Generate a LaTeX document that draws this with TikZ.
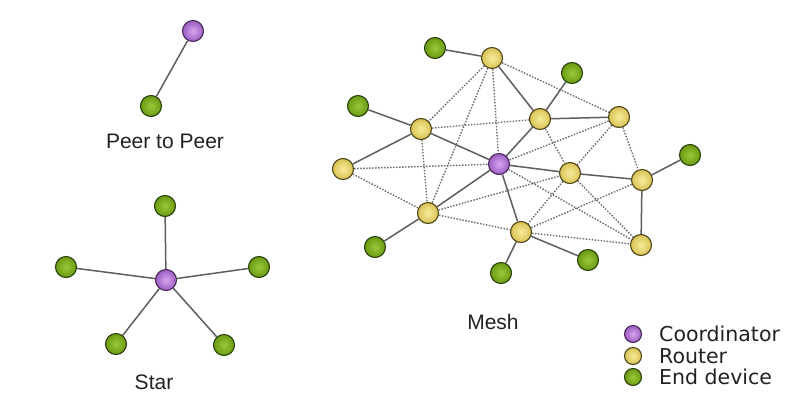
\documentclass[tikz,border=0pt]{standalone}
\usepackage{fontspec}
\setmainfont{Liberation Sans}
\newfontfamily\legendfont{DejaVu Sans}
\begin{document}
\begin{tikzpicture}[x=1pt,y=-1pt,
  dev/.style={circle, inner sep=0pt, minimum size=21pt, draw, line width=1.1pt},
  coord/.style={dev, draw=coordedge, inner color=coordin, outer color=coordout},
  router/.style={dev, draw=routeredge, inner color=routerin, outer color=routerout},
  enddev/.style={dev, draw=endedge, inner color=endin, outer color=endout},
  small/.style={minimum size=17pt},
  link/.style={draw=linkgray, line width=1.5pt},
  weak/.style={draw=dotgray, line width=1.4pt, dash pattern=on 1.5pt off 1.5pt},
  caption/.style={font=\fontsize{21}{24}\selectfont, text=textgray, inner sep=0pt},
  legtext/.style={font=\legendfont\fontsize{20.5}{23}\selectfont, text=textgray, anchor=west, inner sep=0pt}
]
\definecolor{coordin}{HTML}{D9A6F2}
\definecolor{coordout}{HTML}{9A5CC0}
\definecolor{coordedge}{HTML}{4A2A5C}
\definecolor{routerin}{HTML}{F7EC9A}
\definecolor{routerout}{HTML}{D8C255}
\definecolor{routeredge}{HTML}{4E4618}
\definecolor{endin}{HTML}{9CC83A}
\definecolor{endout}{HTML}{6A9A12}
\definecolor{endedge}{HTML}{2A420A}
\definecolor{linkgray}{HTML}{5E5E5E}
\definecolor{dotgray}{HTML}{6C6C6C}
\definecolor{textgray}{HTML}{222222}

\useasboundingbox (0,0) rectangle (795,416);
\fill[white] (0,0) rectangle (795,416);

% ---------- peer to peer ----------
\node[coord]  (pc) at (193,31) {};
\node[enddev] (pe) at (151,106) {};
\draw[link] (pc) -- (pe);
\node[caption] (ptext) at (165,141) {Peer to Peer};

% ---------- star ----------
\node[coord]  (sc)  at (166,280) {};
\node[enddev] (st)  at (165,206) {};
\node[enddev] (sl)  at (66,267) {};
\node[enddev] (sr)  at (259,267) {};
\node[enddev] (sbl) at (116,344) {};
\node[enddev] (sbr) at (224,345) {};
\foreach \e in {st,sl,sr,sbl,sbr} \draw[link] (sc) -- (\e);
\node[caption] (stext) at (154,382) {Star};

% ---------- mesh ----------
\node[coord]  (c)   at (499,164) {};
\node[router] (r1)  at (492,58) {};
\node[router] (r2)  at (421,129) {};
\node[router] (r3)  at (540,119) {};
\node[router] (r4)  at (619,117) {};
\node[router] (r5)  at (343,169) {};
\node[router] (r6)  at (570,173) {};
\node[router] (r7)  at (642,180) {};
\node[router] (r8)  at (428,213) {};
\node[router] (r9)  at (521,232) {};
\node[router] (r10) at (641,245) {};
\node[enddev] (g1)  at (435,48) {};
\node[enddev] (g2)  at (572,73) {};
\node[enddev] (g3)  at (358,106) {};
\node[enddev] (g4)  at (690,155) {};
\node[enddev] (g5)  at (375,247) {};
\node[enddev] (g6)  at (501,273) {};
\node[enddev] (g7)  at (588,260) {};

% direct links
\foreach \a/\b in {g1/r1, r1/r3, g2/r3, r3/c, r3/r4, g3/r2, r2/c, r2/r5,
                   c/r8, c/r9, c/r6, r6/r7, r7/g4, r7/r10, r8/g5, r9/g6, r9/g7}
  \draw[link] (\a) -- (\b);

% radio paths
\foreach \a/\b in {r1/r4, r1/r2, r1/c, r1/r8, r2/r3, r2/r8, r5/c, r5/r8,
                   r8/r9, r8/r6, r3/r6, r4/c, r4/r7, r4/r6, r6/r9, c/r10,
                   r6/r10, r9/r10, r9/r7}
  \draw[weak] (\a) -- (\b);

\node[caption] (mtext) at (493,322) {Mesh};

% ---------- legend ----------
\node[coord, small]  (lc) at (633,334) {};
\node[router, small] (lr) at (633,356) {};
\node[enddev, small] (le) at (633,377) {};
\node[legtext] (lct) at (659,334) {Coordinator};
\node[legtext] (lrt) at (659,356) {Router};
\node[legtext] (let) at (659,377) {End device};
\end{tikzpicture}
\end{document}
